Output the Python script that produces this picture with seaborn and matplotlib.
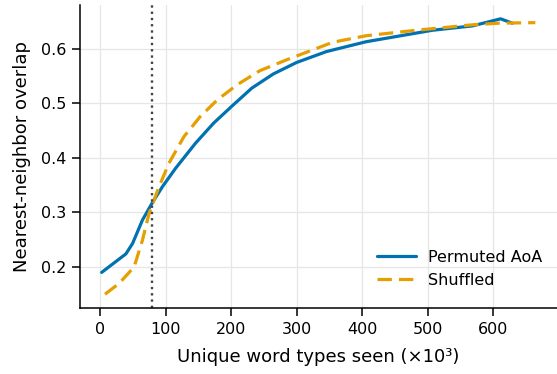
import numpy as np
import pandas as pd
import matplotlib
matplotlib.use("Agg")
import matplotlib.pyplot as plt
import seaborn as sns

perm_x = [2.5, 39.5, 49.6, 64.7, 78.9, 95.1, 115.3, 145.7, 173.5, 201.3, 231.6, 264.5,
          299.9, 345.5, 406, 507, 568, 611, 629]
perm_y = [0.190, 0.224, 0.243, 0.286, 0.316, 0.347, 0.381, 0.427, 0.464, 0.495, 0.528, 0.554,
          0.575, 0.595, 0.613, 0.634, 0.642, 0.655, 0.647]
shuf_x = [7.6, 29.3, 52, 64.7, 74.8, 90, 105, 128, 153, 178.6, 209, 244, 285, 355, 406,
          482, 568, 608.5, 664]
shuf_y = [0.150, 0.170, 0.200, 0.249, 0.298, 0.347, 0.390, 0.439, 0.476, 0.506, 0.534, 0.560,
          0.580, 0.612, 0.624, 0.634, 0.644, 0.647, 0.648]
series_names = ["Permuted AoA", "Shuffled"]
cutoff_x = 80

sns.set_style("ticks")
plt.rcParams['font.family'] = ['DejaVu Sans']
for k in ["text.color", "axes.labelcolor", "xtick.color", "ytick.color", "axes.edgecolor"]:
    plt.rcParams[k] = "black"

df = pd.concat([
    pd.DataFrame({"x": perm_x, "y": perm_y, "cond": series_names[0]}),
    pd.DataFrame({"x": shuf_x, "y": shuf_y, "cond": series_names[1]}),
])

fig = plt.figure(figsize=(5.57, 3.74), dpi=100)
ax = fig.add_axes([0.1436, 0.1765, 0.8564, 0.810])
pal = {series_names[0]: "#0072B2", series_names[1]: "#E69F00"}
sns.lineplot(data=df, x="x", y="y", hue="cond", style="cond", palette=pal,
             dashes={series_names[0]: "", series_names[1]: (4.5, 2.2)},
             linewidth=2.3, ax=ax, sort=False, estimator=None)
ax.axvline(cutoff_x, color="#444444", linestyle=":", linewidth=1.7)
ax.grid(True, color="#e6e6e6", linewidth=0.9)
ax.set_axisbelow(True)
ax.set_xticks([0, 100, 200, 300, 400, 500, 600])
ax.set_yticks([0.2, 0.3, 0.4, 0.5, 0.6])
ax.set_xlabel("Unique word types seen (×10³)", fontsize=13, labelpad=8)
ax.set_ylabel("Nearest-neighbor overlap", fontsize=13, labelpad=7)
ax.tick_params(labelsize=11.5, width=1.1, length=6, pad=4)
for s in ["left", "bottom"]:
    ax.spines[s].set_linewidth(1.1)
sns.despine(ax=ax)
leg = ax.legend(loc="lower right", frameon=False, fontsize=11.5, handlelength=2.4,
                bbox_to_anchor=(1.0, 0.02))
fig.savefig("out.png", dpi=100)
